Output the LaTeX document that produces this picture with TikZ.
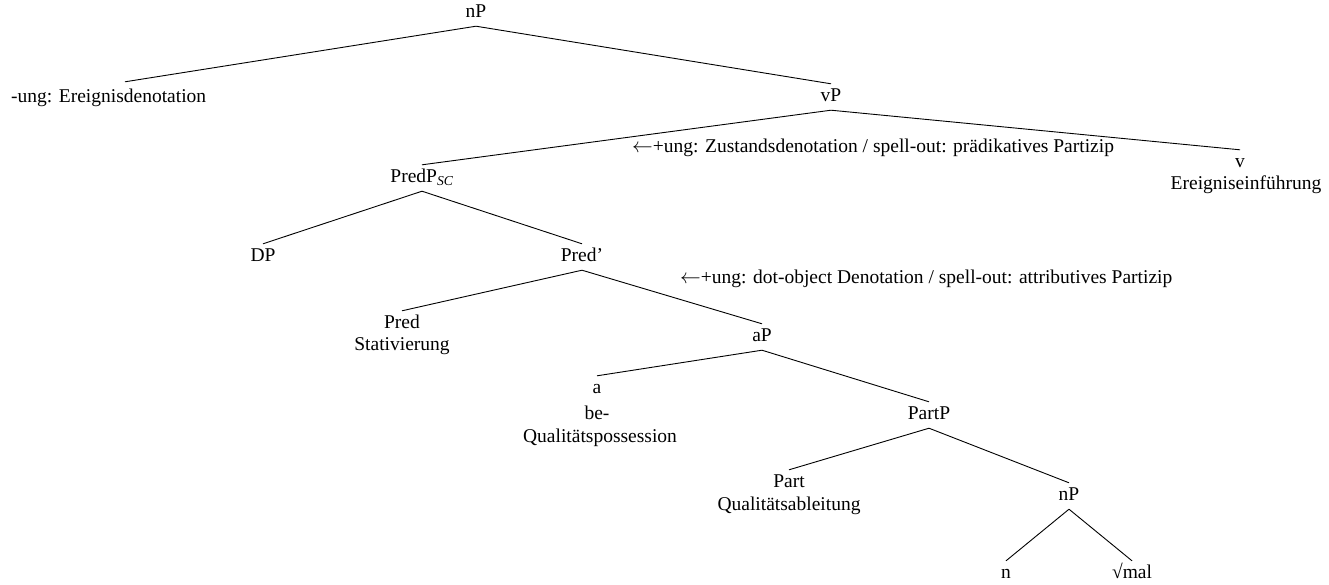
\documentclass[tikz,border=0pt]{standalone}
\usepackage{fontspec}
\setmainfont{Liberation Serif}
\begin{document}
\begin{tikzpicture}[x=1pt,y=-1pt,
  lab/.style={anchor=base,inner xsep=0pt,inner ysep=4pt,text height=13pt,text depth=5pt,font=\fontsize{19.5}{23}\selectfont},
  note/.style={anchor=base west,inner sep=0pt,font=\fontsize{19.5}{23}\selectfont},
  branch/.style={draw=black,line width=0.9pt}]
\useasboundingbox (0,0) rectangle (1329,584);
% category labels and glosses
\node[lab] (np0) at (476,17) {nP};
\node[lab,anchor=base west] (ung) at (11,102) {-ung: Ereignisdenotation};
\node[lab] (vp) at (831,101) {vP};
\node[lab] (predp) at (422,182) {PredP\textsubscript{\itshape SC}};
\node[lab] (v) at (1240,167) {v};
\node[lab] (vgl) at (1246,189) {Ereigniseinführung};
\node[note] (zust) at (632,152) {$\leftarrow$+ung: Zustandsdenotation / spell-out: prädikatives Partizip};
\node[lab] (dp) at (263,261) {DP};
\node[lab] (predbar) at (582,261) {Pred'};
\node[note] (dot) at (680,283) {$\leftarrow$+ung: dot-object Denotation / spell-out: attributives Partizip};
\node[lab] (pred) at (402,328) {Pred};
\node[lab] (predgl) at (402,350) {Stativierung};
\node[lab] (ap) at (762,341) {aP};
\node[lab] (a) at (597,393) {a};
\node[lab] (abe) at (597,419) {be-};
\node[lab] (agl) at (600,442) {Qualitätspossession};
\node[lab] (partp) at (929,419) {PartP};
\node[lab] (part) at (789,487) {Part};
\node[lab] (partgl) at (789,510) {Qualitätsableitung};
\node[lab] (np1) at (1069,500) {nP};
\node[lab] (n) at (1006,578) {n};
\node[lab] (root) at (1132,578) {√mal};
% branches
\draw[branch] (np0.south) -- ([xshift=114pt,yshift=3pt]ung.north west);
\draw[branch] (np0.south) -- (vp.north);
\draw[branch] (vp.south) -- (predp.north);
\draw[branch] (vp.south) -- (v.north);
\draw[branch] (predp.south) -- (dp.north);
\draw[branch] (predp.south) -- (predbar.north);
\draw[branch] (predbar.south) -- (pred.north);
\draw[branch] (predbar.south) -- (ap.north);
\draw[branch] (ap.south) -- (a.north);
\draw[branch] (ap.south) -- (partp.north);
\draw[branch] (partp.south) -- (part.north);
\draw[branch] (partp.south) -- (np1.north);
\draw[branch] (np1.south) -- (n.north);
\draw[branch] (np1.south) -- (root.north);
\end{tikzpicture}
\end{document}
